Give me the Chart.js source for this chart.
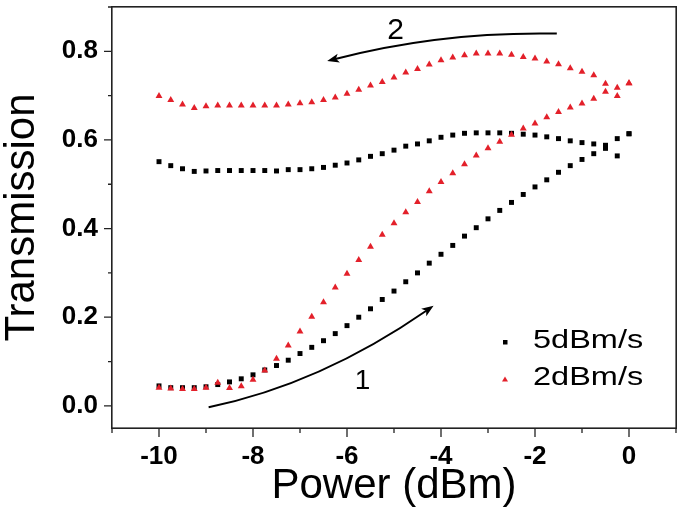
<!DOCTYPE html>
<html><head><meta charset="utf-8">
<script src="https://cdn.jsdelivr.net/npm/chart.js@4.4.0/dist/chart.umd.min.js"></script>
<style>html,body{margin:0;padding:0;background:#fff}canvas{display:block}</style>
</head><body>
<canvas id="c" width="685" height="519"></canvas>
<script>
// Power sweep grid (dBm)
const power = [-10, -9.75, -9.5, -9.25, -9, -8.75, -8.5, -8.25, -8, -7.75, -7.5, -7.25, -7, -6.75, -6.5, -6.25,
  -6, -5.75, -5.5, -5.25, -5, -4.75, -4.5, -4.25, -4, -3.75, -3.5, -3.25, -3, -2.75, -2.5, -2.25,
  -2, -1.75, -1.5, -1.25, -1, -0.75, -0.5, -0.25, 0];
// 5dBm/s : sweep 1 (rising power) and sweep 2 (falling power)
const fast_up = [0.045, 0.041, 0.041, 0.041, 0.043, 0.048, 0.054, 0.061, 0.070, 0.081, 0.091, 0.103, 0.118, 0.132, 0.147, 0.163,
  0.181, 0.200, 0.219, 0.240, 0.259, 0.280, 0.300, 0.322, 0.342, 0.362, 0.383, 0.402, 0.422, 0.441, 0.459, 0.477,
  0.494, 0.510, 0.527, 0.542, 0.556, 0.569, 0.588, 0.603, 0.614];
const fast_down = [0.551, 0.542, 0.535, 0.529, 0.530, 0.531, 0.531, 0.531, 0.531, 0.531, 0.530, 0.533, 0.533, 0.535, 0.538, 0.543,
  0.548, 0.555, 0.563, 0.569, 0.577, 0.586, 0.591, 0.598, 0.606, 0.611, 0.615, 0.616, 0.616, 0.616, 0.615, 0.613,
  0.611, 0.607, 0.603, 0.598, 0.594, 0.591, 0.581, 0.564, 0.614];
// 2dBm/s
const slow_up = [0.041, 0.039, 0.038, 0.038, 0.041, 0.052, 0.040, 0.044, 0.059, 0.080, 0.106, 0.136, 0.168, 0.201, 0.234, 0.267,
  0.298, 0.329, 0.359, 0.386, 0.412, 0.437, 0.460, 0.484, 0.505, 0.525, 0.545, 0.565, 0.581, 0.596, 0.612, 0.626,
  0.637, 0.651, 0.663, 0.673, 0.682, 0.693, 0.709, 0.699, 0.728];
const slow_down = [0.699, 0.690, 0.680, 0.672, 0.676, 0.678, 0.678, 0.678, 0.678, 0.678, 0.678, 0.680, 0.683, 0.685, 0.690, 0.696,
  0.704, 0.713, 0.723, 0.731, 0.741, 0.752, 0.760, 0.770, 0.780, 0.786, 0.791, 0.795, 0.795, 0.795, 0.792, 0.787,
  0.784, 0.777, 0.771, 0.762, 0.754, 0.746, 0.727, 0.718, 0.728];
const seriesNames = ['5dBm/s', '2dBm/s'];
const seriesColors = ['#000000', '#e3202a'];
const xMajorTicks = [-10, -8, -6, -4, -2, 0];
const xMinorTicks = [-11, -9, -7, -5, -3, -1, 1];
const yMajorTicks = [0, 0.2, 0.4, 0.6, 0.8];
const yMinorTicks = [0.1, 0.3, 0.5, 0.7, 0.9];
// sweep-direction arrows (data coordinates: start, control, tip) and their labels
const arrowLabels = ['1', '2'];
const arrowPaths = [
  [[-8.944, -0.003], [-6.566, 0.049], [-4.158, 0.226]],
  [[-1.536, 0.840], [-3.994, 0.845], [-6.422, 0.778]]
];
const arrowLabelPos = [[-5.672, 0.058], [-4.965, 0.848]];

const FONT = "'Liberation Sans', Arial, Helvetica, sans-serif";
const pts = (xs, ys) => xs.map((x, i) => ({x: x, y: ys[i]}));

const decor = {
  id: 'decor',
  afterDraw(chart) {
    const ctx = chart.ctx, ca = chart.chartArea;
    const xs = chart.scales.x, ys = chart.scales.y;
    ctx.save();
    // frame (four sides)
    ctx.fillStyle = '#222';
    const w = ca.right - ca.left, h = ca.bottom - ca.top;
    ctx.fillRect(ca.left - 1, ca.top - 1, w + 2, 1.6);
    ctx.fillRect(ca.left - 1, ca.bottom - 0.6, w + 2, 1.6);
    ctx.fillRect(ca.left - 1, ca.top - 1, 1.6, h + 2);
    ctx.fillRect(ca.right - 0.6, ca.top - 1, 1.6, h + 2);
    // ticks (outward)
    ctx.strokeStyle = '#222';
    ctx.lineWidth = 1.3; ctx.beginPath();
    xMajorTicks.forEach(v => { const p = xs.getPixelForValue(v); ctx.moveTo(p, ca.bottom); ctx.lineTo(p, ca.bottom + 9); });
    xMinorTicks.forEach(v => { const p = xs.getPixelForValue(v); ctx.moveTo(p, ca.bottom); ctx.lineTo(p, ca.bottom + 5); });
    yMajorTicks.forEach(v => { const p = ys.getPixelForValue(v); ctx.moveTo(ca.left, p); ctx.lineTo(ca.left - 8, p); });
    yMinorTicks.forEach(v => { const p = ys.getPixelForValue(v); ctx.moveTo(ca.left, p); ctx.lineTo(ca.left - 4, p); });
    ctx.stroke();
    // arrows
    ctx.strokeStyle = '#000'; ctx.fillStyle = '#000'; ctx.lineWidth = 2;
    arrowPaths.forEach(path => {
      const P = path.map(q => [xs.getPixelForValue(q[0]), ys.getPixelForValue(q[1])]);
      const dx = P[2][0] - P[1][0], dy = P[2][1] - P[1][1];
      const L = Math.hypot(dx, dy), ux = dx / L, uy = dy / L;
      const hl = 12, hw = 4.5;
      ctx.beginPath();
      ctx.moveTo(P[0][0], P[0][1]);
      ctx.quadraticCurveTo(P[1][0], P[1][1], P[2][0] - ux * hl * 0.7, P[2][1] - uy * hl * 0.7);
      ctx.stroke();
      ctx.beginPath();
      ctx.moveTo(P[2][0], P[2][1]);
      ctx.lineTo(P[2][0] - ux * hl - uy * hw, P[2][1] - uy * hl + ux * hw);
      ctx.lineTo(P[2][0] - ux * hl * 0.75, P[2][1] - uy * hl * 0.75);
      ctx.lineTo(P[2][0] - ux * hl + uy * hw, P[2][1] - uy * hl - ux * hw);
      ctx.closePath(); ctx.fill();
    });
    ctx.textAlign = 'center'; ctx.textBaseline = 'middle';
    arrowLabels.forEach((t, i) => {
      ctx.font = (i === 0 ? 28 : 30) + 'px ' + FONT;
      ctx.fillText(t, xs.getPixelForValue(arrowLabelPos[i][0]), ys.getPixelForValue(arrowLabelPos[i][1]) + 1);
    });
    // legend
    const rows = [ca.bottom - 87, ca.bottom - 50];
    const mx = ca.right - 171, tx = ca.right - 143;
    chart.data.datasets.forEach((ds, i) => {
      const y = rows[i];
      ctx.fillStyle = ds.backgroundColor;
      if (ds.pointStyle === 'rect') {
        ctx.fillRect(mx - 2, y - 2 + 1, 4.5, 4.5);
      } else {
        ctx.beginPath();
        ctx.moveTo(mx, y - 2.5 + 1); ctx.lineTo(mx + 3, y + 2.5 + 1); ctx.lineTo(mx - 3, y + 2.5 + 1);
        ctx.closePath(); ctx.fill();
      }
      ctx.fillStyle = '#000';
      ctx.save();
      ctx.translate(tx, y);
      ctx.scale(1.3, 1);
      ctx.font = '25px ' + FONT; ctx.textAlign = 'left'; ctx.textBaseline = 'middle';
      ctx.fillText(ds.label, 0, 0);
      ctx.restore();
    });
    ctx.restore();
  }
};

new Chart(document.getElementById('c'), {
  type: 'scatter',
  data: {
    datasets: [
      {label: seriesNames[0], data: [...pts(power, fast_up), ...pts(power, fast_down)],
       backgroundColor: seriesColors[0], borderColor: seriesColors[0], pointStyle: 'rect',
       pointRadius: 3.5, pointBorderWidth: 0, showLine: false, order: 1},
      {label: seriesNames[1], data: [...pts(power, slow_up), ...pts(power, slow_down)],
       backgroundColor: seriesColors[1], borderColor: seriesColors[1], pointStyle: 'triangle',
       pointRadius: 4, pointBorderWidth: 0, showLine: false, order: 0}
    ]
  },
  options: {
    responsive: false, animation: false,
    layout: {padding: {top: 7, right: 9, left: 0, bottom: 0}},
    plugins: {legend: {display: false}, tooltip: {enabled: false}},
    scales: {
      x: {
        type: 'linear', min: -11, max: 1,
        afterBuildTicks: s => { s.ticks = xMajorTicks.map(v => ({value: v})); },
        afterFit: s => { s.height = 91; s.paddingLeft = 0; s.paddingRight = 0; s.paddingTop = 0; s.paddingBottom = 0; },
        grid: {display: false, drawTicks: false}, border: {display: false},
        ticks: {color: '#000', padding: 13, maxRotation: 0, autoSkip: false,
                font: {family: FONT, size: 26, weight: 'bold'}, callback: v => String(v)},
        title: {display: true, text: 'Power (dBm)', color: '#000',
                font: {family: FONT, size: 42, lineHeight: 1.0}, padding: {top: 0, bottom: 12}}
      },
      y: {
        type: 'linear', min: -0.05, max: 0.9,
        afterBuildTicks: s => { s.ticks = yMajorTicks.map(v => ({value: v})); },
        afterFit: s => { s.width = 112; s.paddingLeft = 0; s.paddingRight = 0; s.paddingTop = 0; s.paddingBottom = 0; },
        grid: {display: false, drawTicks: false}, border: {display: false},
        ticks: {color: '#000', padding: 14, autoSkip: false,
                font: {family: FONT, size: 26, weight: 'bold'}, callback: v => Number(v).toFixed(1)},
        title: {display: true, text: 'Transmission', color: '#000',
                font: {family: FONT, size: 42, lineHeight: 1.0}, padding: {top: 1, bottom: 0}}
      }
    }
  },
  plugins: [decor]
});
</script>
</body></html>
